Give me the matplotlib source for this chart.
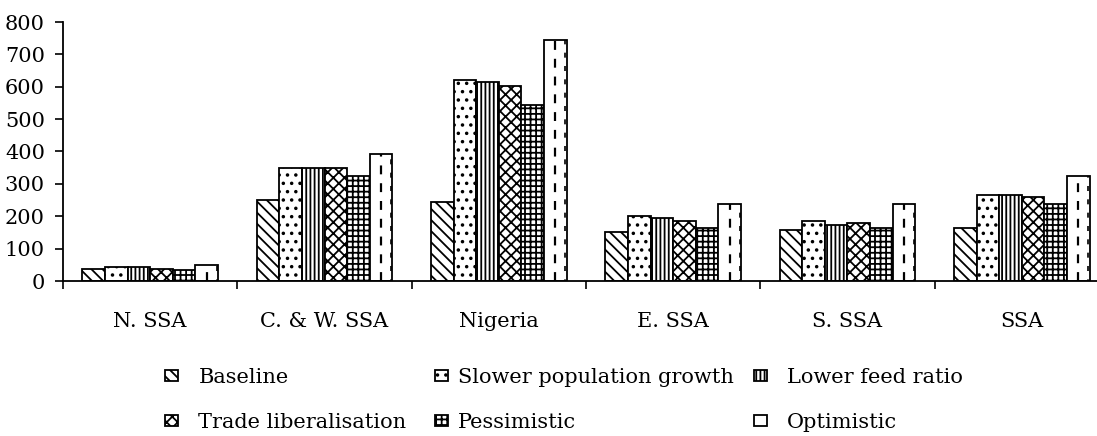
import matplotlib
matplotlib.use("Agg")
import matplotlib.pyplot as plt
import numpy as np

categories = ["N. SSA", "C. & W. SSA", "Nigeria", "E. SSA", "S. SSA", "SSA"]
series_names = ["Baseline", "Slower population growth", "Lower feed ratio",
                "Trade liberalisation", "Pessimistic", "Optimistic"]
baseline = [38, 250, 243, 150, 157, 164]
slower_pop = [44, 348, 620, 200, 186, 265]
lower_feed = [44, 348, 615, 194, 173, 265]
trade_lib = [37, 348, 602, 186, 180, 260]
pessimistic = [35, 324, 545, 164, 164, 237]
optimistic = [50, 392, 745, 237, 237, 323]
yticks = [0, 100, 200, 300, 400, 500, 600, 700, 800]

series = [baseline, slower_pop, lower_feed, trade_lib, pessimistic, optimistic]
hatches = ["\\\\\\", "..", "||||", "xxx", "+++", ""]

plt.rcParams["font.family"] = ["DejaVu Serif"]
plt.rcParams["hatch.linewidth"] = 1.3
plt.rcParams["hatch.color"] = "black"

fig = plt.figure(figsize=(10.97, 4.36), dpi=100)
W, H = 1097, 436
x_left, x_right = 63, 1109
y_zero, y_top = 281, 22
ax = fig.add_axes([x_left / W, (H - y_zero) / H, (x_right - x_left) / W, (y_zero - y_top) / H])

n = len(series)
bw = 0.13
x = np.arange(len(categories))
handles = []
for i, (vals, hatch, name) in enumerate(zip(series, hatches, series_names)):
    offs = (i - (n - 1) / 2) * bw
    bars = ax.bar(x + offs, vals, width=bw, facecolor="white", edgecolor="black",
                  linewidth=1.3, hatch=hatch, label=name, zorder=2)
    handles.append(bars)
    if name == "Optimistic":
        for b in bars:
            cx = b.get_x() + b.get_width() / 2
            ax.plot([cx, cx], [0, b.get_height()], color="black", lw=1.6,
                    ls=(0, (4, 4)), zorder=3)
            rx = b.get_x() + b.get_width() * 0.93
            ax.plot([rx, rx], [0, b.get_height()], color="black", lw=1.2,
                    ls=(2, (3, 5)), zorder=3)

ax.set_xlim(-0.5, len(categories) - 0.5)
ax.set_ylim(0, 800)
ax.set_yticks(yticks)
ax.set_yticklabels([str(v) for v in yticks])
ax.set_xticks(x)
ax.set_xticklabels(categories)
ax.set_xticks(np.arange(len(categories) + 1) - 0.5, minor=True)
ax.tick_params(axis="x", which="major", length=0, pad=22, labelsize=15)
ax.tick_params(axis="x", which="minor", length=6, width=1.2, direction="out")
ax.tick_params(axis="y", length=6, width=1.2, direction="out", pad=7, labelsize=15)
for s in ["top", "right"]:
    ax.spines[s].set_visible(False)
ax.spines["left"].set_linewidth(1.3)
ax.spines["bottom"].set_linewidth(1.3)

# legend in three columns placed separately
cols = [(0, 3, 165, 1.0), (1, 4, 435, 0.5), (2, 5, 754, 1.0)]
for a, b, xpix, pad in cols:
    leg = fig.legend([handles[a], handles[b]], [series_names[a], series_names[b]],
                     loc="upper left", bbox_to_anchor=(xpix / W, 1 - 368 / H),
                     frameon=False, fontsize=15, handlelength=0.6, handleheight=0.45,
                     handletextpad=pad, labelspacing=1.25, borderpad=0, borderaxespad=0)

fig.savefig("out.png", dpi=100)
